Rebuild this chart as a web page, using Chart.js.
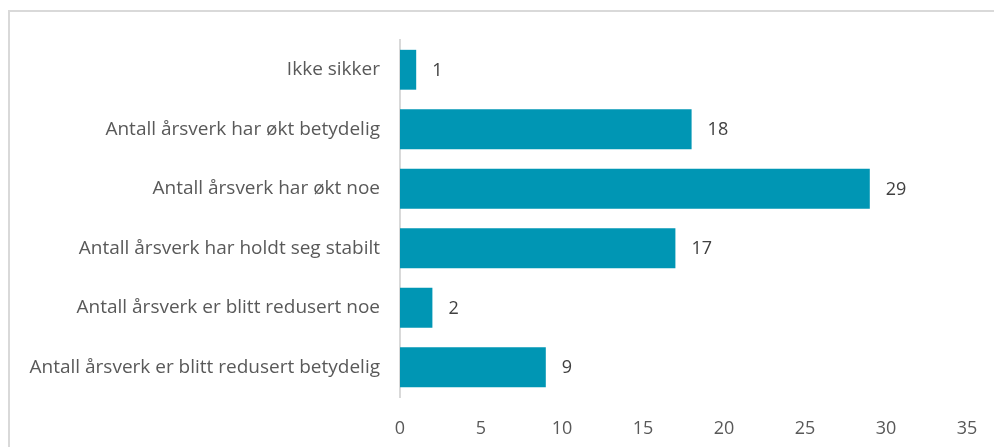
<!DOCTYPE html>
<html lang="no">
<head>
    <meta charset="UTF-8">
    <title>Årsverk</title>
    <script src="https://cdn.jsdelivr.net/npm/chart.js"></script>
    <style>
        html, body { margin: 0; padding: 0; background: #fff; overflow: hidden; }
        #wrap { position: relative; width: 994px; height: 447px; }
        #frame { position: absolute; left: 8px; top: 10px; width: 1000px; height: 460px; border: 2px solid #d9d9d9; box-sizing: border-box; }
        canvas { position: absolute; left: 0; top: 0; }
    </style>
</head>
<body>
    <div id="wrap">
        <div id="frame"></div>
        <canvas id="chart" width="994" height="447"></canvas>
    </div>

    <script>
        const categories = [
            'Ikke sikker',
            'Antall årsverk har økt betydelig',
            'Antall årsverk har økt noe',
            'Antall årsverk har holdt seg stabilt',
            'Antall årsverk er blitt redusert noe',
            'Antall årsverk er blitt redusert betydelig'
        ];
        const values = [1, 18, 29, 17, 2, 9];
        const xTicks = [0, 5, 10, 15, 20, 25, 30, 35];

        const fontFamily = '"Open Sans", Lato, sans-serif';
        const textColor = '#595959';

        // skriver verdien til høyre for hver stolpe
        const valueLabels = {
            id: 'valueLabels',
            afterDatasetsDraw(chart) {
                const ctx = chart.ctx;
                const meta = chart.getDatasetMeta(0);
                ctx.save();
                ctx.font = '18px ' + fontFamily;
                ctx.fillStyle = '#404040';
                ctx.textAlign = 'left';
                ctx.textBaseline = 'middle';
                meta.data.forEach((bar, i) => {
                    ctx.fillText(String(values[i]), bar.x + 16, bar.y + 1);
                });
                ctx.restore();
            }
        };

        new Chart(document.getElementById('chart'), {
            type: 'bar',
            data: {
                labels: categories,
                datasets: [{
                    data: values,
                    backgroundColor: '#0096b4',
                    borderWidth: 0,
                    barPercentage: 0.67,
                    categoryPercentage: 1
                }]
            },
            options: {
                indexAxis: 'y',
                responsive: false,
                animation: false,
                layout: { padding: { left: 0, right: 27, top: 40, bottom: 0 } },
                plugins: { legend: { display: false }, tooltip: { enabled: false } },
                scales: {
                    x: {
                        min: 0,
                        max: 35,
                        afterBuildTicks(scale) {
                            scale.ticks = xTicks.map(v => ({ value: v }));
                        },
                        afterFit(scale) { scale.height = 50; },
                        grid: { display: false },
                        border: { display: false },
                        ticks: { color: textColor, font: { family: fontFamily, size: 18 }, padding: 13 }
                    },
                    y: {
                        afterFit(scale) { scale.width = 400; },
                        grid: { display: false },
                        border: { display: true, color: '#d9d9d9', width: 2 },
                        ticks: { color: textColor, font: { family: fontFamily, size: 19 }, padding: 12 }
                    }
                }
            },
            plugins: [valueLabels]
        });
    </script>
</body>
</html>
